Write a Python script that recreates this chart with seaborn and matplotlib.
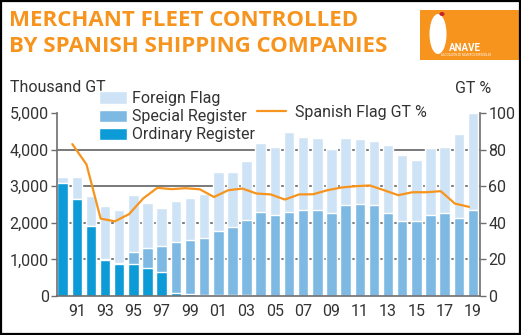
import matplotlib
matplotlib.use("Agg")
import matplotlib.pyplot as plt
import seaborn as sns
import pandas as pd
from matplotlib.patches import Rectangle, Ellipse, Patch
from matplotlib.lines import Line2D

# Fleet controlled by Spanish shipping companies, thousand GT
years = list(range(1990, 2020))
ordinary = [3100, 2660, 1920, 990, 880, 870, 770, 660, 80, 50,
            20, 15, 15, 15, 10, 10, 0, 0, 0, 0,
            0, 0, 0, 0, 0, 0, 0, 0, 0, 0]
special = [0, 0, 0, 10, 20, 330, 540, 700, 1395, 1480,
           1565, 1755, 1870, 2070, 2285, 2195, 2295, 2340, 2340, 2265,
           2480, 2505, 2480, 2270, 2050, 2050, 2205, 2270, 2140, 2350]
foreign = [140, 580, 800, 1470, 1440, 1570, 1230, 1040, 1115, 1140,
           1195, 1620, 1505, 1595, 1895, 1870, 2180, 2010, 1980, 1755,
           1840, 1790, 1745, 1850, 1805, 1660, 1825, 1790, 2295, 2650]

# Spanish flag share of GT (%), 1991-2019
pct_years = list(range(1991, 2020))
spanish_pct = [83.0, 71.9, 42.3, 40.8, 44.7, 53.3, 59.1, 58.4, 58.9, 58.3,
               54.1, 57.8, 58.7, 56.0, 55.5, 52.7, 55.5, 55.6, 57.8, 59.3,
               60.0, 60.4, 57.8, 55.1, 56.7, 56.7, 57.3, 50.5, 48.7]

tick_labels = ["91", "93", "95", "97", "99", "01", "03", "05", "07", "09",
               "11", "13", "15", "17", "19"]

C_FOREIGN = "#cfe3f6"
C_SPECIAL = "#7db9e3"
C_ORDINARY = "#0d9bd7"
C_ORANGE = "#f7941d"
C_TEXT = "#333333"
C_GRID = "#6e6e6e"
FS = 11.5

sns.set_theme(style="white")
plt.rcParams["font.family"] = ["Roboto", "DejaVu Sans"]

df = pd.DataFrame({"year": [str(y) for y in years],
                   "ordinary": ordinary, "special": special, "foreign": foreign})
df["registered"] = df["ordinary"] + df["special"]
df["total"] = df["registered"] + df["foreign"]

fig = plt.figure(figsize=(5.21, 3.35), dpi=100)
pos = [0.1094, 0.1164, 0.8119, 0.5463]
ax = fig.add_axes(pos)

# stacked bars drawn as overlapping cumulative heights
for col, color in [("total", C_FOREIGN), ("registered", C_SPECIAL), ("ordinary", C_ORDINARY)]:
    sns.barplot(data=df, x="year", y=col, color=color, width=0.74,
                saturation=1, ax=ax, zorder=2)

ax.set_xlim(-0.40, 29.44)
ax.set_ylim(0, 5000)
ax.set_yticks(range(0, 5001, 1000))
ax.set_yticklabels([f"{v:,}" for v in range(0, 5001, 1000)])
ax.yaxis.grid(True, color=C_GRID, linewidth=1.3, zorder=0)
ax.set_axisbelow(True)
ax.get_ygridlines()[-1].set_visible(False)
ax.get_ygridlines()[0].set_visible(False)

ax.set_xticks([i for i, y in enumerate(years) if y % 2 == 1])
ax.set_xticklabels(tick_labels)
ax.set_xticks([i + 0.5 for i in range(len(years))], minor=True)
ax.tick_params(axis="x", which="major", length=0, labelsize=FS, colors=C_TEXT, pad=6)
ax.tick_params(axis="x", which="minor", length=3.5, width=1, color=C_GRID, direction="out")
ax.tick_params(axis="y", length=4, width=1, color=C_GRID, labelsize=FS, labelcolor=C_TEXT, pad=2, left=True)
ax.set_xlabel("")
ax.set_ylabel("")
for side in ["top", "right"]:
    ax.spines[side].set_visible(False)
for side in ["left", "bottom"]:
    ax.spines[side].set_color(C_GRID)
    ax.spines[side].set_linewidth(1.2)
ax.spines["bottom"].set_zorder(5)

# share line on its own axes, right-hand scale
axr = fig.add_axes(pos, facecolor="none")
idx = [years.index(y) for y in pct_years]
sns.lineplot(x=idx, y=spanish_pct, color=C_ORANGE, linewidth=1.6, ax=axr)
axr.set_xlim(-0.08, 29.77)
axr.set_ylim(0, 100)
axr.set_xticks([])
axr.yaxis.tick_right()
axr.set_yticks(range(0, 101, 20))
axr.tick_params(axis="y", length=4, width=1, color=C_GRID, labelsize=FS, labelcolor=C_TEXT, pad=2, right=True)
for side in ["top", "left", "bottom"]:
    axr.spines[side].set_visible(False)
axr.spines["right"].set_color(C_GRID)
axr.spines["right"].set_linewidth(1.2)

# axis titles
fig.text(10 / 521, 1 - 87 / 335, "Thousand GT", fontsize=FS, color=C_TEXT, va="center", ha="left")
fig.text(491 / 521, 1 - 88 / 335, "GT %", fontsize=FS, color=C_TEXT, va="center", ha="right")

# legends
bar_handles = [Patch(facecolor=C_FOREIGN, label="Foreign Flag"),
               Patch(facecolor=C_SPECIAL, label="Special Register"),
               Patch(facecolor=C_ORDINARY, label="Ordinary Register")]
fig.legend(handles=bar_handles, loc="upper left", bbox_to_anchor=(99 / 521, 1 - 91 / 335),
           frameon=False, fontsize=FS, handlelength=1.75, handleheight=0.8,
           handletextpad=0.3, labelspacing=0.2, borderpad=0, borderaxespad=0,
           labelcolor=C_TEXT)
line_handle = [Line2D([], [], color=C_ORANGE, linewidth=1.6, label="Spanish Flag GT %")]
fig.legend(handles=line_handle, loc="center left", bbox_to_anchor=(257 / 521, 1 - 112 / 335),
           frameon=False, fontsize=FS, handlelength=1.8, handletextpad=0.55,
           borderpad=0, borderaxespad=0, labelcolor=C_TEXT)

# title
title_font = ["Open Sans", "DejaVu Sans"]
for ytop, line in [(21, "MERCHANT FLEET CONTROLLED"), (47, "BY SPANISH SHIPPING COMPANIES")]:
    fig.text(9 / 521, 1 - ytop / 335, line, fontsize=16, fontweight="bold",
             color=C_ORANGE, va="center", ha="left", family=title_font)

# association badge
fig.patches.append(Rectangle((420 / 521, 1 - 60 / 335), 101 / 521, 50 / 335,
                             transform=fig.transFigure, facecolor=C_ORANGE, edgecolor="none"))
fig.patches.append(Ellipse((438 / 521, 1 - 34 / 335), 17 / 521, 40 / 335,
                           transform=fig.transFigure, facecolor="white", edgecolor="none"))
fig.patches.append(Ellipse((442 / 521, 1 - 14 / 335), 5 / 521, 4 / 335,
                           transform=fig.transFigure, facecolor="#c0262d", edgecolor="none"))
fig.text(465 / 521, 1 - 48 / 335, "ANAVE", fontsize=7, fontweight="bold", color="white",
         ha="center", va="center")
fig.text(466 / 521, 1 - 55 / 335, "ASOCIACIÓN DE NAVIEROS ESPAÑOLES", fontsize=2, color="white",
         ha="center", va="center")

# outer frame
fig.patches.append(Rectangle((0.001, 0.002), 0.997, 0.995, transform=fig.transFigure,
                             facecolor="none", edgecolor="black", linewidth=1.6))

fig.savefig("out.png", dpi=100)
